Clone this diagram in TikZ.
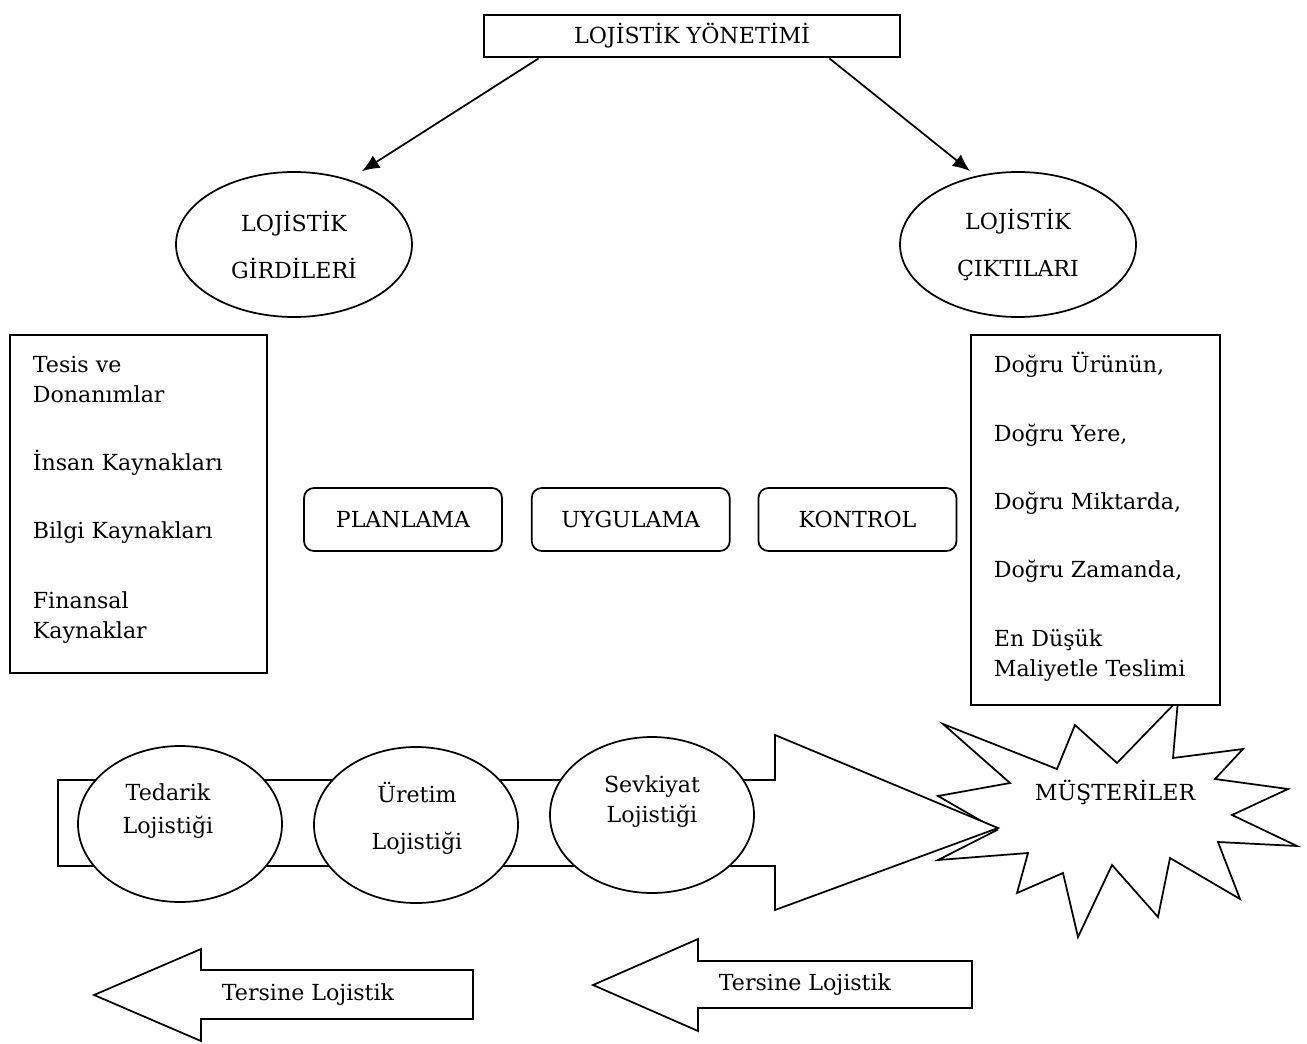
\documentclass[tikz,border=0pt]{standalone}
\usepackage{fontspec}
\setmainfont{DejaVu Serif}
\usepackage{tikz}
\usetikzlibrary{arrows.meta,positioning,shapes.geometric}
\def\px{0.75pt}

\begin{document}
\begin{tikzpicture}[
    x=0.75pt,
    y=-0.75pt,
    >={Latex[length=13pt,width=11pt]},
    font=\fontsize{16.6}{22.5}\selectfont,
    line width=1.3pt,
    head/.style={
		rectangle,
		draw=black,
		line width=2.2pt,
		minimum width=416*\px,
		minimum height=42*\px,
		fill=white
	},
	group/.style={
		ellipse,
		draw=black,
		inner sep=0pt,
		align=center,
		minimum width=236*\px,
		minimum height=145*\px,
		fill=white
	},
	stage/.style={
		rectangle,
		rounded corners=7.5pt,
		draw=black,
		text centered,
		minimum width=148.5pt,
		minimum height=47.25pt,
		fill=white
	},
	listbox/.style={
		rectangle,
		draw=black,
		fill=white
	},
	flow/.style={
		ellipse,
		draw=black,
		inner sep=0pt,
		minimum width=204*\px,
		minimum height=156*\px,
		fill=white
	},
	outline/.style={
		draw=black,
		fill=white,
		line join=miter
	},
	lbl/.style={
		inner sep=0pt
	}
  ]
\useasboundingbox (0,0) rectangle (1307,1043);

 \node [head] (yonetim) at (692,36) {LOJİSTİK YÖNETİMİ};
 \node [group] (girdi) at (294,244.5) {LOJİSTİK\\[12.75pt]GİRDİLERİ};
 \node [group] (cikti) at (1018,244.5) {LOJİSTİK\\[12.75pt]ÇIKTILARI};

 \draw [->] ([xshift=56*\px]yonetim.south west) -- ([xshift=68*\px]girdi.north);
 \draw [->] ([xshift=-72*\px]yonetim.south east) -- ([xshift=-48*\px]cikti.north);

% // inputs and outputs
 \node [listbox, minimum width=192.75pt, minimum height=253.5pt] (girdibox) at (138.5,504) {};
 \node [lbl, anchor=north west, align=left] (girditxt) at (32,355)
 {Tesis ve\\Donanımlar\\[28.5pt]İnsan Kaynakları\\[28.5pt]Bilgi Kaynakları\\[30pt]Finansal\\Kaynaklar};

% // customers
 \draw [outline] (943,724) -- (1057,769) -- (1075,725) -- (1117,763) -- (1178,700)
   -- (1173,758) -- (1243,749) -- (1215,779) -- (1288,789) -- (1232,815)
   -- (1297,846) -- (1218,842) -- (1240,899) -- (1170,858) -- (1158,917)
   -- (1112,865) -- (1078,937) -- (1063,873) -- (1017,893) -- (1028,853)
   -- (938,860) -- (997,830) -- (938,796) -- (1010,783) -- cycle;
 \node [lbl] (musteri) at (1115,792) {MÜŞTERİLER};

 \node [listbox, minimum width=186.75pt, minimum height=277.5pt] (ciktibox) at (1095.5,520) {};
 \node [lbl, anchor=north west, align=left] (ciktitxt) at (993,351)
 {Doğru Ürünün,\\[29.25pt]Doğru Yere,\\[28.5pt]Doğru Miktarda,\\[28.5pt]Doğru Zamanda,\\[29.25pt]En Düşük\\Maliyetle Teslimi};

% // process
 \node [stage] (plan) at (403,519.5) {PLANLAMA};
 \node [stage, right=21pt of plan] (uygula) {UYGULAMA};
 \node [stage, right=20.25pt of uygula] (kontrol) {KONTROL};

% // the flow
 \draw [outline] (58,780) -- (775,780) -- (775,735) -- (998,828) -- (775,910) -- (775,866) -- (58,866) -- cycle;
 \node [flow] (tedarik) at (180,824) {};
 \node [flow] (uretim) at (416,825) {};
 \node [flow] (sevk) at (652,815) {};
 \node [lbl, align=center] (tedariktxt) at (168,811) {Tedarik\\[2.25pt]Lojistiği};
 \node [lbl, align=center] (uretimtxt) at (417,818) {Üretim\\[12.75pt]Lojistiği};
 \node [lbl, align=center] (sevktxt) at (652,802) {Sevkiyat\\Lojistiği};

% // reverse
 \draw [outline] (94,995) -- (201,949) -- (201,970) -- (473,970) -- (473,1019) -- (201,1019) -- (201,1041) -- cycle;
 \node [lbl] (tersine1) at (308,995) {Tersine Lojistik};
 \draw [outline] (593,985) -- (698,939) -- (698,961) -- (972,961) -- (972,1008) -- (698,1008) -- (698,1031) -- cycle;
 \node [lbl] (tersine2) at (805,985) {Tersine Lojistik};

\end{tikzpicture}
\end{document}
